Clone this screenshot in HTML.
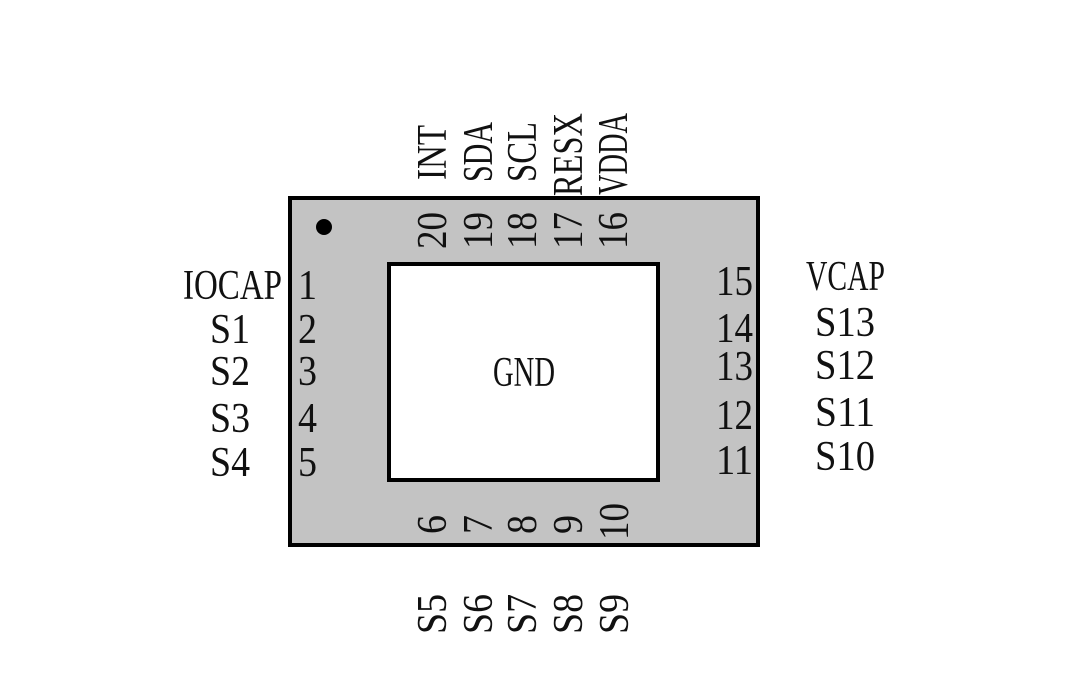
<!DOCTYPE html>
<html><head><meta charset="utf-8"><style>
html,body{margin:0;padding:0;background:#fff;}
svg{display:block;}
text{font-family:"Liberation Serif",serif;font-size:42px;fill:#111;}
</style></head><body>
<svg width="1080" height="682" viewBox="0 0 1080 682">
<rect x="290" y="198" width="468" height="347" fill="#c3c3c3" stroke="#000" stroke-width="4"/>
<rect x="389" y="264" width="269" height="216" fill="#fff" stroke="#000" stroke-width="4"/>
<circle cx="324" cy="227" r="8" fill="#000"/>
<text x="493" y="386" textLength="62" lengthAdjust="spacingAndGlyphs">GND</text>
<text x="183" y="299" textLength="99" lengthAdjust="spacingAndGlyphs">IOCAP</text>
<text x="210" y="343" textLength="40" lengthAdjust="spacingAndGlyphs">S1</text>
<text x="210" y="385" textLength="40" lengthAdjust="spacingAndGlyphs">S2</text>
<text x="210" y="432" textLength="40" lengthAdjust="spacingAndGlyphs">S3</text>
<text x="210" y="476" textLength="40" lengthAdjust="spacingAndGlyphs">S4</text>
<text x="298" y="299" textLength="19" lengthAdjust="spacingAndGlyphs">1</text>
<text x="298" y="343" textLength="19" lengthAdjust="spacingAndGlyphs">2</text>
<text x="298" y="385" textLength="19" lengthAdjust="spacingAndGlyphs">3</text>
<text x="298" y="432" textLength="19" lengthAdjust="spacingAndGlyphs">4</text>
<text x="298" y="476" textLength="19" lengthAdjust="spacingAndGlyphs">5</text>
<text x="716" y="295" textLength="37" lengthAdjust="spacingAndGlyphs">15</text>
<text x="716" y="342" textLength="37" lengthAdjust="spacingAndGlyphs">14</text>
<text x="716" y="380" textLength="37" lengthAdjust="spacingAndGlyphs">13</text>
<text x="716" y="429" textLength="37" lengthAdjust="spacingAndGlyphs">12</text>
<text x="716" y="474" textLength="37" lengthAdjust="spacingAndGlyphs">11</text>
<text x="806" y="290" textLength="79" lengthAdjust="spacingAndGlyphs">VCAP</text>
<text x="815" y="336" textLength="60" lengthAdjust="spacingAndGlyphs">S13</text>
<text x="815" y="379" textLength="60" lengthAdjust="spacingAndGlyphs">S12</text>
<text x="815" y="426" textLength="60" lengthAdjust="spacingAndGlyphs">S11</text>
<text x="815" y="470" textLength="60" lengthAdjust="spacingAndGlyphs">S10</text>
<text transform="translate(446,180) rotate(-90)" textLength="55" lengthAdjust="spacingAndGlyphs">INT</text>
<text transform="translate(492,182) rotate(-90)" textLength="60" lengthAdjust="spacingAndGlyphs">SDA</text>
<text transform="translate(536,182) rotate(-90)" textLength="60" lengthAdjust="spacingAndGlyphs">SCL</text>
<text transform="translate(582,196) rotate(-90)" textLength="83" lengthAdjust="spacingAndGlyphs">RESX</text>
<text transform="translate(627,195) rotate(-90)" textLength="82" lengthAdjust="spacingAndGlyphs">VDDA</text>
<text transform="translate(446,249) rotate(-90)" textLength="37" lengthAdjust="spacingAndGlyphs">20</text>
<text transform="translate(492,249) rotate(-90)" textLength="37" lengthAdjust="spacingAndGlyphs">19</text>
<text transform="translate(536,249) rotate(-90)" textLength="37" lengthAdjust="spacingAndGlyphs">18</text>
<text transform="translate(582,249) rotate(-90)" textLength="37" lengthAdjust="spacingAndGlyphs">17</text>
<text transform="translate(627,249) rotate(-90)" textLength="37" lengthAdjust="spacingAndGlyphs">16</text>
<text transform="translate(446,534) rotate(-90)" textLength="19" lengthAdjust="spacingAndGlyphs">6</text>
<text transform="translate(492,534) rotate(-90)" textLength="19" lengthAdjust="spacingAndGlyphs">7</text>
<text transform="translate(536,534) rotate(-90)" textLength="19" lengthAdjust="spacingAndGlyphs">8</text>
<text transform="translate(582,534) rotate(-90)" textLength="19" lengthAdjust="spacingAndGlyphs">9</text>
<text transform="translate(628,540) rotate(-90)" textLength="37" lengthAdjust="spacingAndGlyphs">10</text>
<text transform="translate(446,634) rotate(-90)" textLength="40" lengthAdjust="spacingAndGlyphs">S5</text>
<text transform="translate(492,634) rotate(-90)" textLength="40" lengthAdjust="spacingAndGlyphs">S6</text>
<text transform="translate(536,634) rotate(-90)" textLength="40" lengthAdjust="spacingAndGlyphs">S7</text>
<text transform="translate(582,634) rotate(-90)" textLength="40" lengthAdjust="spacingAndGlyphs">S8</text>
<text transform="translate(628,634) rotate(-90)" textLength="40" lengthAdjust="spacingAndGlyphs">S9</text>
</svg>
</body></html>
